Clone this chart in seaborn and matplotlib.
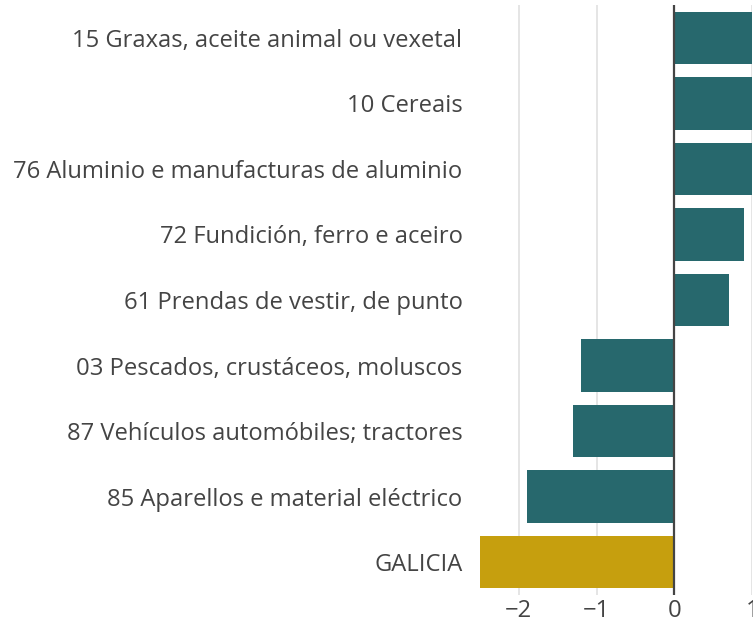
import numpy as np
import pandas as pd
import matplotlib
matplotlib.use("Agg")
import matplotlib.pyplot as plt
import seaborn as sns

categories = [
    "15 Graxas, aceite animal ou vexetal",
    "10 Cereais",
    "76 Aluminio e manufacturas de aluminio",
    "72 Fundición, ferro e aceiro",
    "61 Prendas de vestir, de punto",
    "03 Pescados, crustáceos, moluscos",
    "87 Vehículos automóbiles; tractores",
    "85 Aparellos e material eléctrico",
    "GALICIA",
]
values = [1.6, 1.4, 1.2, 0.90, 0.70, -1.20, -1.31, -1.90, -2.50]
groups = ["cap"] * 8 + ["total"]

df = pd.DataFrame({"categoria": categories, "valor": values, "grupo": groups})
palette = {"cap": "#27686d", "total": "#c69f0e"}

sns.set_theme(style="white")
plt.rcParams["font.family"] = ["Open Sans", "DejaVu Sans"]

fig = plt.figure(figsize=(7.53, 6.23), dpi=100)
ax = fig.add_axes([0.627, 0.045, 0.372, 0.947])

sns.barplot(data=df, x="valor", y="categoria", hue="grupo", palette=palette,
            dodge=False, legend=False, width=0.8, saturation=1, linewidth=0,
            ax=ax, zorder=2)

ax.set_xlim(-2.6, 1.0)
ax.set_ylim(8.5, -0.5)
ax.set_xticks([-2, -1, 0, 1])
ax.set_xticklabels(["\u22122", "\u22121", "0", "1"])
ax.xaxis.grid(True, color="#e3e3e3", linewidth=1.3, zorder=0)
ax.yaxis.grid(False)
ax.axvline(0, color="#444444", linewidth=1.6, zorder=3)
ax.set_axisbelow(True)
for s in ax.spines.values():
    s.set_visible(False)
ax.set_xlabel("")
ax.set_ylabel("")
ax.tick_params(axis="y", length=0, pad=7, labelsize=17.1, labelcolor="#444444")
ax.tick_params(axis="x", length=0, pad=3, labelsize=17.1, labelcolor="#444444")

fig.savefig("out.png", dpi=100)
